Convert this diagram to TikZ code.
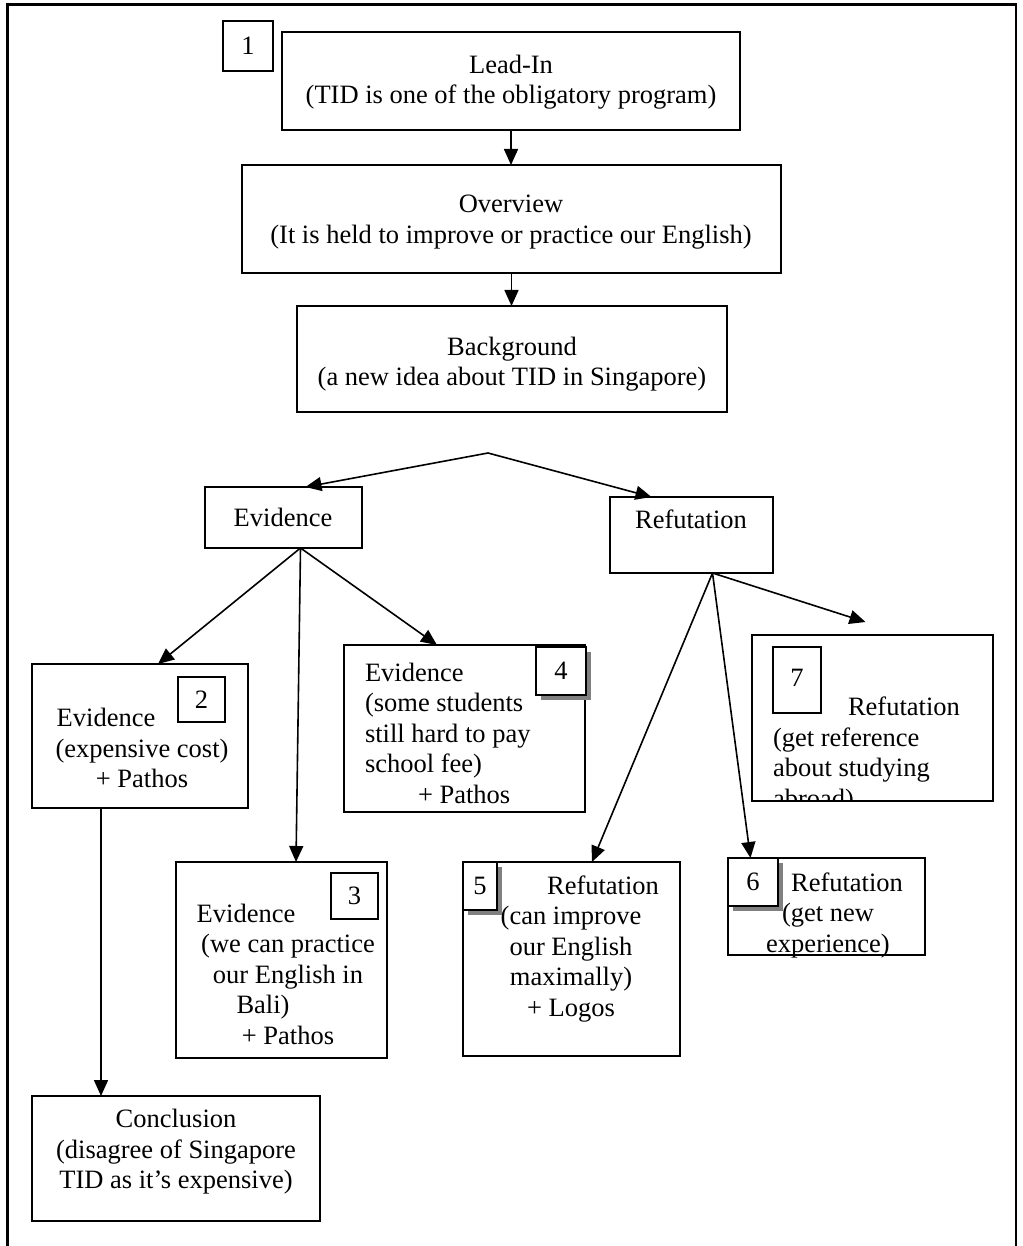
\documentclass[tikz,border=0pt]{standalone}
\usepackage{fontspec}
\setmainfont{Liberation Serif}
\usetikzlibrary{arrows.meta,shadows}
\definecolor{shadowgray}{RGB}{128,128,128}

\begin{document}
\begin{tikzpicture}[x=1pt,y=-1pt,
  every node/.style={inner sep=0pt, outer sep=0pt},
  box/.style={draw=black, line width=1.8pt, fill=white, rectangle, anchor=north west},
  numbox/.style={box, font=\fontsize{26.5}{30.5}\selectfont},
  shadowed/.style={general shadow={fill=shadowgray, shadow xshift=5pt, shadow yshift=-5pt}},
  txt/.style={font=\fontsize{26.5}{30.5}\selectfont, align=center},
  ltxt/.style={font=\fontsize{26.5}{30.5}\selectfont, align=left, anchor=west},
  arr/.style={line width=1.6pt, -{Triangle[length=16pt,width=14pt]}},
]
\useasboundingbox (0,0) rectangle (1022,1246);

% page frame, open at the bottom
\draw[line width=2.2pt] (7.5,1246) -- (7.5,4.5) -- (1016,4.5) -- (1016,1246);

% main boxes
\node[box, minimum width=458pt, minimum height=98pt]  (lead)  at (282,32)  {};
\node[box, minimum width=539pt, minimum height=108pt] (over)  at (242,165) {};
\node[box, minimum width=430pt, minimum height=106pt] (back)  at (297,306) {};
\node[box, minimum width=157pt, minimum height=61pt]  (evid)  at (205,487) {};
\node[box, minimum width=163pt, minimum height=76pt]  (refu)  at (610,497) {};
\node[box, minimum width=216pt, minimum height=144pt] (ev2)   at (32,664)  {};
\node[box, minimum width=211pt, minimum height=196pt] (ev3)   at (176,862) {};
\node[box, minimum width=241pt, minimum height=167pt] (ev4)   at (344,645) {};
\node[box, minimum width=217pt, minimum height=194pt] (rf5)   at (463,862) {};
\node[box, minimum width=197pt, minimum height=97pt]  (rf6)   at (728,858) {};
\node[box, minimum width=241pt, minimum height=166pt] (rf7)   at (752,635) {};
\node[box, minimum width=288pt, minimum height=125pt] (concl) at (32,1096) {};

% box texts
\node[txt] (leadT) at (511,82)  {Lead-In\\(TID is one of the obligatory program)};
\node[txt] (overT) at (511,222) {Overview\\(It is held to improve or practice our English)};
\node[txt] (backT) at (512,364) {Background\\(a new idea about TID in Singapore)};
\node[txt] (evidT) at (283,517) {Evidence};
\node[txt] (refuT) at (691,519) {Refutation};
\node[txt] (ev2T)  at (142,748) {Evidence\hspace{72pt}\mbox{}\\(expensive cost)\\+ Pathos};
\node[txt] (ev3T)  at (288,974) {Evidence\hspace{84pt}\mbox{}\\(we can practice\\our English in\\Bali)\hspace{50pt}\mbox{}\\+ Pathos};
\node[ltxt] (ev4T) at (365,733) {Evidence\\(some students\\still hard to pay\\school fee)\\\hspace*{53pt}+ Pathos};
\node[txt] (rf5T)  at (571,949) {\mbox{}\hspace{64pt}Refutation\\(can improve\\our English\\maximally)\\+ Logos};
\node[txt] (rf6T)  at (828,915) {\mbox{}\hspace{38pt}Refutation\\(get new\\experience)};
% the last line of this box runs past its lower edge and is cut off
\begin{scope}
  \clip (753,636) rectangle (991,800);
  \node[ltxt] (rf7T) at (773,755) {\hspace*{75pt}Refutation\\(get reference\\about studying\\abroad)};
\end{scope}
\node[txt] (conclT) at (176,1152) {Conclusion\\(disagree of Singapore\\TID as it’s expensive)};

% numbered tags
\node[numbox, minimum width=50pt, minimum height=50pt] (n1) at (223,21)  {1};
\node[numbox, minimum width=47pt, minimum height=45pt] (n2) at (178,677) {2};
\node[numbox, minimum width=47pt, minimum height=46pt] (n3) at (331,873) {3};
\node[numbox, shadowed, minimum width=50pt, minimum height=48pt] (n4) at (536,647) {4};
\node[numbox, shadowed, minimum width=34pt, minimum height=48pt] (n5) at (463,862) {5};
\node[numbox, shadowed, minimum width=50pt, minimum height=48pt] (n6) at (728,858) {6};
\node[numbox, minimum width=48pt, minimum height=66pt] (n7) at (773,647) {\raisebox{4pt}{7}};

% connectors
\coordinate (apex) at (488,453);
\draw[arr] (lead.south) -- (lead.south |- over.north);
\draw[arr] (over.south) -- (over.south |- back.north);
\draw[arr] (apex) -- ([xshift=22pt]evid.north);
\draw[arr] (apex) -- ([xshift=-40pt]refu.north);
\draw[arr] ([xshift=17pt]evid.south) -- ([xshift=18pt]ev2.north);
\draw[arr] ([xshift=17pt]evid.south) -- ([xshift=14.5pt]ev3.north);
\draw[arr] ([xshift=17pt]evid.south) -- ([xshift=-27.5pt]ev4.north);
\draw[arr] ([xshift=21pt]refu.south) -- ([xshift=20.5pt]rf5.north);
\draw[arr] ([xshift=21pt]refu.south) -- ([xshift=-76pt]rf6.north);
\draw[arr] ([xshift=21pt]refu.south) -- ([xshift=-7pt,yshift=13pt]rf7.north);
\draw[arr] ([xshift=-39pt]ev2.south) -- ([xshift=-39pt]ev2.south |- concl.north);
\end{tikzpicture}
\end{document}
